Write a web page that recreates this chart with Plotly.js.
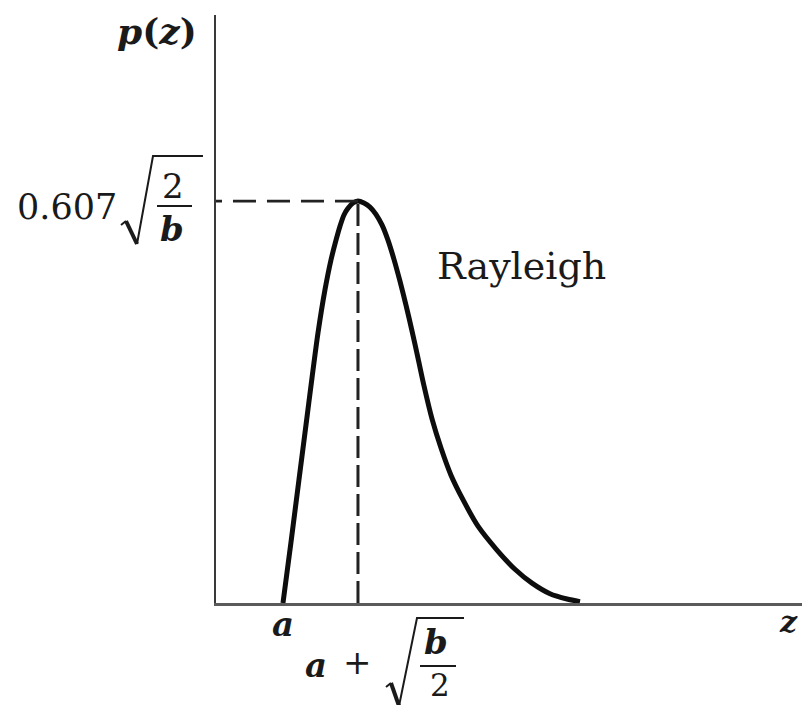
<!DOCTYPE html>
<html>
<head>
<meta charset="utf-8">
<script src="https://cdn.plot.ly/plotly-3.0.1.min.js"></script>
<style>
  html, body { margin: 0; padding: 0; background: #ffffff; }
  #chart { width: 802px; height: 705px; }
</style>
</head>
<body>
<div id="chart"></div>
<script>
// Rayleigh density p(z), drawn with a = 1 and b = 2 so that the mode sits at
// z = a + sqrt(b/2) = 2 and the peak height is 0.607*sqrt(2/b) = 0.607.
const zA = 1;
const zPeak = 2;
const pPeak = 0.607;

// Points along the curve (z, p)
const curveZ = [1.000, 1.107, 1.213, 1.307, 1.387, 1.467, 1.560, 1.640, 1.707, 1.760,
                1.813, 1.867, 1.933, 2.000, 2.080, 2.160, 2.240, 2.320, 2.400, 2.480,
                2.560, 2.640, 2.720, 2.800, 2.880, 2.987, 3.107, 3.240, 3.400, 3.600,
                3.853, 4.093, 4.320, 4.560, 4.787, 4.960];
const curveP = [0.000, 0.092, 0.186, 0.269, 0.340, 0.408, 0.473, 0.518, 0.548, 0.569,
                0.586, 0.596, 0.604, 0.607, 0.604, 0.598, 0.587, 0.571, 0.548, 0.519,
                0.486, 0.450, 0.411, 0.370, 0.328, 0.278, 0.234, 0.193, 0.156, 0.116,
                0.080, 0.051, 0.030, 0.014, 0.006, 0.002];

const zRange = [0.107, 7.92];
const pRange = [0, 0.888];

// Plot-area geometry (pixels) used to place the hand-built labels
const M = { l: 216, r: 0, t: 15, b: 102 };
const W = 802, H = 705;
const PW = W - M.l - M.r, PH = H - M.t - M.b;
const px = x => (x - M.l) / PW;
const py = y => (H - M.b - y) / PH;

const serif = 'DejaVu Serif, Liberation Serif, serif';
const ink = '#1a1a1a';

const traces = [
  {
    x: curveZ, y: curveP, type: 'scatter', mode: 'lines',
    line: { color: '#0d0d0d', width: 5, shape: 'spline', smoothing: 0.8 },
    hoverinfo: 'skip'
  },
  {
    // horizontal guide from the peak back to the p axis
    x: [zPeak, zRange[0]], y: [pPeak, pPeak], type: 'scatter', mode: 'lines',
    line: { color: '#222222', width: 2.8, dash: '23px,11px' },
    hoverinfo: 'skip'
  },
  {
    // vertical guide from the z axis up to the peak
    x: [zPeak, zPeak], y: [0, pPeak], type: 'scatter', mode: 'lines',
    line: { color: '#222222', width: 3, dash: '22px,7px' },
    hoverinfo: 'skip'
  }
];

function label(text, x, y, size, opts) {
  return Object.assign({
    text: text, xref: 'paper', yref: 'paper', x: px(x), y: py(y),
    xanchor: 'center', yanchor: 'middle', showarrow: false,
    font: { family: serif, size: size, color: ink }
  }, opts || {});
}
function pathShape(pts, width) {
  const d = pts.map((p, i) => (i ? 'L' : 'M') + px(p[0]).toFixed(5) + ',' + py(p[1]).toFixed(5)).join(' ');
  return { type: 'path', xref: 'paper', yref: 'paper', path: d,
           line: { color: ink, width: width } };
}

const annotations = [
  label('<b><i>p</i>(<i>z</i>)</b>', 157, 31, 36),
  label('0.607', 67, 207, 35),
  label('2', 173, 186, 34),
  label('<b><i>b</i></b>', 172, 229, 34),
  label('Rayleigh', 521, 266, 38),
  { text: '<b><i>a</i></b>', xref: 'x', yref: 'paper', x: zA, y: py(624),
    xanchor: 'center', yanchor: 'middle', showarrow: false,
    font: { family: serif, size: 34, color: ink } },
  label('<b><i>a</i></b>', 316, 665, 34),
  { text: '+', xref: 'x', yref: 'paper', x: zPeak, y: py(662),
    xanchor: 'center', yanchor: 'middle', showarrow: false,
    font: { family: serif, size: 34, color: ink } },
  label('<b><i>b</i></b>', 436, 642, 34),
  label('2', 440, 685, 31),
  label('<b><i>z</i></b>', 788, 621, 30)
];

const shapes = [
  // radical for sqrt(2/b)
  pathShape([[121, 225], [126, 221]], 2),
  pathShape([[126, 221], [137, 244]], 4),
  pathShape([[137, 244], [153, 156], [203, 156]], 2),
  pathShape([[157, 206], [192, 206]], 2),
  // radical for sqrt(b/2)
  pathShape([[386, 687], [391, 683]], 2),
  pathShape([[391, 683], [399, 706]], 4),
  pathShape([[399, 706], [417, 618], [464, 618]], 2),
  pathShape([[420, 666], [456, 666]], 2)
];

const layout = {
  width: W, height: H,
  margin: M,
  paper_bgcolor: '#ffffff', plot_bgcolor: '#ffffff',
  showlegend: false,
  xaxis: {
    range: zRange, showline: true, linecolor: '#5a5a5a', linewidth: 3,
    showgrid: false, zeroline: false, showticklabels: false, ticks: '', fixedrange: true
  },
  yaxis: {
    range: pRange, showline: true, linecolor: '#3a3a3a', linewidth: 2.5,
    showgrid: false, zeroline: false, showticklabels: false, ticks: '', fixedrange: true
  },
  annotations: annotations,
  shapes: shapes
};

Plotly.newPlot('chart', traces, layout, { staticPlot: true, displayModeBar: false });
</script>
</body>
</html>
